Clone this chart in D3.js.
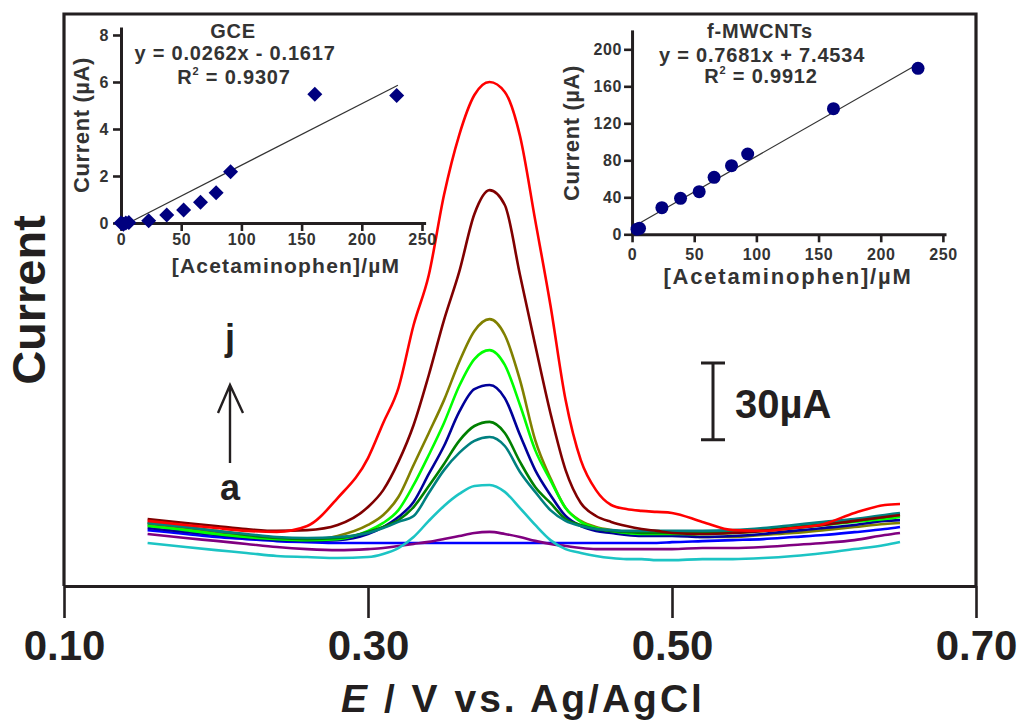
<!DOCTYPE html>
<html><head><meta charset="utf-8">
<script src="https://cdn.jsdelivr.net/npm/d3@7"></script>
<style>
html,body{margin:0;padding:0;background:#fff;}
svg{display:block;font-family:"Liberation Sans",Arial,sans-serif;font-weight:bold;}
</style></head><body>
<svg id="chart" width="1022" height="722"></svg>
<script>
// ---------- main DPV data (E in V, current in µA, arbitrary offset) ----------
const potential = [0.155,0.18,0.20,0.22,0.24,0.26,0.28,0.30,0.31,0.32,0.33,0.34,0.35,0.36,0.37,0.38,0.39,0.40,0.41,0.42,0.43,0.44,0.45,0.46,0.47,0.48,0.49,0.50,0.52,0.54,0.56,0.58,0.60,0.62,0.64,0.65];
const curveA = [21.8,20.3,19.1,18.3,17.5,17.1,16.8,16.8,16.8,16.8,16.8,16.8,16.8,16.8,16.8,16.8,16.8,16.8,16.8,16.8,16.8,16.8,16.8,16.8,16.8,16.8,16.8,17.1,17.5,17.9,18.3,19.1,19.9,21.0,22.2,23.0];
const curveB = [20.3,18.7,17.6,16.4,15.2,14.4,14.0,14.4,14.8,15.6,16.4,17.2,18.3,19.5,20.7,21.1,20.3,19.1,17.6,16.4,15.6,14.8,14.4,14.4,14.4,14.4,14.4,14.4,14.8,14.8,15.2,16.0,16.8,17.9,19.9,20.7];
const curveC = [16.8,15.2,14.0,12.9,11.7,11.3,10.9,11.3,12.5,14.8,19.1,25.4,31.2,35.9,39.0,39.4,36.7,30.4,23.8,17.9,14.4,12.9,11.7,10.9,10.5,10.5,10.1,10.1,10.5,10.5,10.9,11.7,12.9,14.4,16.0,17.2];
const curveD = [24.6,23.0,21.5,20.3,19.1,18.7,19.1,20.7,22.6,25.0,27.3,36.3,45.2,51.9,56.6,58.1,54.6,44.5,36.7,29.6,25.4,23.4,22.2,21.8,21.5,21.5,21.5,21.5,21.5,21.8,22.6,23.8,25.0,26.1,27.7,28.5];
const curveE = [24.6,23.0,21.5,19.9,18.7,18.3,18.7,21.1,23.0,25.7,30.8,39.0,47.6,56.6,62.4,64.0,59.7,48.4,38.6,32.4,26.1,23.8,22.2,21.5,21.1,20.7,20.7,20.7,20.7,21.1,21.8,23.0,24.2,25.4,26.9,27.7];
const curveF = [22.6,21.1,19.9,18.7,17.9,17.6,17.9,20.3,23.0,26.9,32.8,43.7,54.6,67.9,76.8,78.4,73.3,58.9,45.2,35.5,27.3,23.4,21.5,20.7,19.9,19.5,19.5,19.5,19.1,19.5,20.3,21.5,22.6,23.8,25.4,25.7];
const curveG = [23.4,21.8,20.3,19.1,18.3,17.9,18.3,21.5,24.6,29.6,39.4,51.1,63.6,78.0,88.5,92.0,86.2,70.6,53.0,41.3,30.4,25.0,22.6,21.5,20.7,20.3,20.3,20.3,20.3,20.7,21.5,22.6,23.8,25.0,26.1,26.9];
const curveH = [23.8,22.2,20.7,19.5,18.3,17.9,19.5,23.8,27.7,34.7,47.2,59.7,72.5,87.4,99.5,104.1,97.9,80.3,56.9,42.1,30.4,25.4,23.0,21.8,21.1,20.7,20.7,20.7,19.1,19.1,19.9,20.7,21.8,23.0,24.2,24.6];
const curveI = [26.1,24.6,23.4,22.2,21.5,21.8,23.8,30.8,37.4,48.4,62.8,82.3,103.7,122.5,145.1,154.4,148.6,121.3,94.0,67.5,45.2,32.4,27.3,25.0,23.4,22.2,21.5,20.7,20.3,20.7,21.5,22.6,23.8,25.4,26.9,27.7];
const curveJ = [25.4,23.8,22.6,21.5,21.1,23.4,34.3,49.9,63.6,77.2,101.8,121.3,152.5,175.9,191.5,196.6,192.7,175.5,142.7,109.6,72.5,49.1,37.4,31.6,30.0,29.3,28.9,28.5,25.0,21.8,21.5,22.6,24.2,28.5,31.6,32.0];
const curveColors = {a:"#0000ff", b:"#800080", c:"#1cc4c4", d:"#008080", e:"#008000", f:"#000099", g:"#00ff00", h:"#808000", i:"#800000", j:"#ff0000"};
const drawOrder = ["a","b","c","h","f","g","e","d","i","j"];
const xTicks = [0.10,0.30,0.50,0.70];
const scaleBar = {base:57, value:30, label:"30µA"};

// ---------- inset data ----------
const gceConc = [0, 2, 4, 6.5, 23, 38, 52, 66, 79, 91, 161, 229];
const gceCurrent = [0, -0.05, 0, 0.02, 0.1, 0.34, 0.55, 0.88, 1.29, 2.18, 5.48, 5.42];
const gceFit = {slope:0.0262, intercept:-0.1617, from:6.2, to:230};
const mwConc = [4, 6, 24, 39, 54, 66, 80, 93, 162, 230];
const mwCurrent = [5.5, 6.5, 28.8, 38.9, 46.1, 61.6, 74.2, 86.8, 135.8, 179.5];
const mwFit = {slope:0.7681, intercept:7.4534, from:1, to:230};
const insetXTicks = [0,50,100,150,200,250];
const gceYTicks = [0,2,4,6,8];
const mwYTicks = [0,40,80,120,160,200];

const seriesVals = {a:curveA,b:curveB,c:curveC,d:curveD,e:curveE,f:curveF,g:curveG,h:curveH,i:curveI,j:curveJ};

const svg = d3.select("#chart");
const ink = "#231f20";

const x = d3.scaleLinear().domain([0.10,0.70]).range([64,976]);
const y = d3.scaleLinear().domain([0,223.1]).range([586,14]);

// curves
const line = d3.line().x((d,i)=>x(potential[i])).y(d=>y(d)).curve(d3.curveMonotoneX);
svg.append("g").selectAll("path").data(drawOrder).join("path")
  .attr("d", k=>line(seriesVals[k]))
  .attr("fill","none").attr("stroke",k=>curveColors[k]).attr("stroke-width",2.6)
  .attr("stroke-linejoin","round");

// frame
svg.append("path").attr("d",`M${x(0.10)},586V14H${x(0.70)}V586`)
  .attr("fill","none").attr("stroke",ink).attr("stroke-width",3.2);

// bottom axis
const xAxis = svg.append("g").attr("transform","translate(0,586)")
  .call(d3.axisBottom(x).tickValues(xTicks).tickFormat(d3.format(".2f")).tickSize(32).tickSizeOuter(0).tickPadding(12));
xAxis.select(".domain").attr("stroke",ink).attr("stroke-width",3.2);
xAxis.selectAll(".tick line").attr("stroke",ink).attr("stroke-width",2.6);
xAxis.selectAll(".tick text").attr("fill",ink).attr("font-size",42).attr("font-family","'Liberation Sans',Arial,sans-serif").attr("font-weight","bold");

// axis titles
const xt = svg.append("text").attr("x",523).attr("y",712).attr("text-anchor","middle")
  .attr("font-size",39).attr("fill",ink).attr("letter-spacing",3);
xt.append("tspan").attr("font-style","italic").text("E");
xt.append("tspan").text(" / V vs. Ag/AgCl");

svg.append("text").attr("transform","translate(45,300) rotate(-90)").attr("text-anchor","middle")
  .attr("font-size",47).attr("fill",ink).text("Current");

// a -> j
svg.append("text").attr("x",230).attr("y",350).attr("text-anchor","middle").attr("font-size",36).attr("fill",ink).text("j");
svg.append("text").attr("x",230).attr("y",500).attr("text-anchor","middle").attr("font-size",36).attr("fill",ink).text("a");
svg.append("path").attr("d","M230,463V386M218,413L230,385L243,413").attr("fill","none").attr("stroke",ink).attr("stroke-width",2.4);

// scale bar
const sbx = 713, sbTop = y(scaleBar.base+scaleBar.value), sbBot = y(scaleBar.base);
svg.append("path").attr("d",`M${sbx},${sbTop}V${sbBot}M${sbx-12},${sbTop}H${sbx+12}M${sbx-12},${sbBot}H${sbx+12}`)
  .attr("fill","none").attr("stroke",ink).attr("stroke-width",3);
svg.append("text").attr("x",735).attr("y",418).attr("font-size",40).attr("fill",ink).text(scaleBar.label);

// ---------- insets ----------
function inset(cfg){
  const g = svg.append("g");
  const ix = d3.scaleLinear().domain(cfg.xDomain).range(cfg.xRange);
  const iy = d3.scaleLinear().domain(cfg.yDomain).range(cfg.yRange);
  // fit line
  g.append("line").attr("x1",ix(cfg.fit.from)).attr("y1",iy(cfg.fit.slope*cfg.fit.from+cfg.fit.intercept))
    .attr("x2",ix(cfg.fit.to)).attr("y2",iy(cfg.fit.slope*cfg.fit.to+cfg.fit.intercept))
    .attr("stroke","#333").attr("stroke-width",1.2);
  // axes
  const ax = g.append("g").attr("transform",`translate(0,${cfg.yRange[0]})`)
    .call(d3.axisBottom(ix).tickValues(insetXTicks).tickSize(8).tickSizeOuter(0).tickPadding(cfg.xPad));
  const ay = g.append("g").attr("transform",`translate(${ix(0)},0)`)
    .call(d3.axisLeft(iy).tickValues(cfg.yTicks).tickSize(8).tickSizeOuter(0).tickPadding(cfg.yPad));
  [ax,ay].forEach(a=>{
    a.select(".domain").attr("stroke",ink).attr("stroke-width",3);
    a.selectAll(".tick line").attr("stroke",ink).attr("stroke-width",2.6);
    a.selectAll(".tick text").attr("fill","#333").attr("font-size",16).attr("font-weight","bold")
      .attr("font-family","'Liberation Sans',Arial,sans-serif").attr("letter-spacing",0.6);
  });
  // points
  const pts = cfg.conc.map((c,i)=>[c,cfg.cur[i]]);
  if(cfg.marker==="diamond"){
    g.append("g").selectAll("path").data(pts).join("path")
      .attr("d",d=>{const px=ix(d[0]),py=iy(d[1]);return `M${px},${py-7.5}L${px+7.5},${py}L${px},${py+7.5}L${px-7.5},${py}Z`;})
      .attr("fill","#00007f");
  } else {
    g.append("g").selectAll("circle").data(pts).join("circle")
      .attr("cx",d=>ix(d[0])).attr("cy",d=>iy(d[1])).attr("r",6.5).attr("fill","#00007f");
  }
  // texts
  const t = (tx,ty,fs,txt,ls)=>g.append("text").attr("x",tx).attr("y",ty).attr("text-anchor","middle")
    .attr("font-size",fs).attr("fill","#333").attr("letter-spacing",ls||0).text(txt);
  t(cfg.titleX,38,20,cfg.title,0.8);
  t(cfg.titleX+2,cfg.eqY,20,cfg.eq,0.8);
  const r = g.append("text").attr("x",cfg.titleX+1).attr("y",cfg.rY).attr("text-anchor","middle")
    .attr("font-size",20).attr("fill","#333").attr("letter-spacing",0.8);
  r.append("tspan").text("R");
  r.append("tspan").attr("font-size",11).attr("dy",-9).text("2");
  r.append("tspan").attr("dy",9).text(" = "+cfg.r2);
  t(cfg.xLabX,cfg.xLabY,cfg.xLabFs,"[Acetaminophen]/µM",cfg.xLabLs);
  g.append("text").attr("transform",`translate(${cfg.yLabX},${cfg.yLabY}) rotate(-90)`).attr("text-anchor","middle")
    .attr("font-size",22).attr("fill","#333").attr("letter-spacing",0.6).text("Current (µA)");
}

inset({xDomain:[-5,253], xRange:[115,425.6], yDomain:[0,8.34], yRange:[223,27], yTicks:gceYTicks,
  xPad:3, yPad:4, fit:gceFit, conc:gceConc, cur:gceCurrent, marker:"diamond",
  title:"GCE", titleX:233, eq:"y = 0.0262x - 0.1617", eqY:60, r2:"0.9307", rY:84,
  xLabX:286, xLabY:273, xLabFs:21, xLabLs:1.2, yLabX:89, yLabY:125});
inset({xDomain:[-1,252.5], xRange:[630.8,946], yDomain:[0,221], yRange:[234.3,29.9], yTicks:mwYTicks,
  xPad:6, yPad:2, fit:mwFit, conc:mwConc, cur:mwCurrent, marker:"circle",
  title:"f-MWCNTs", titleX:760, eq:"y = 0.7681x + 7.4534", eqY:62, r2:"0.9912", rY:83,
  xLabX:788, xLabY:284, xLabFs:22, xLabLs:1.8, yLabX:579, yLabY:133});
</script>
</body></html>
